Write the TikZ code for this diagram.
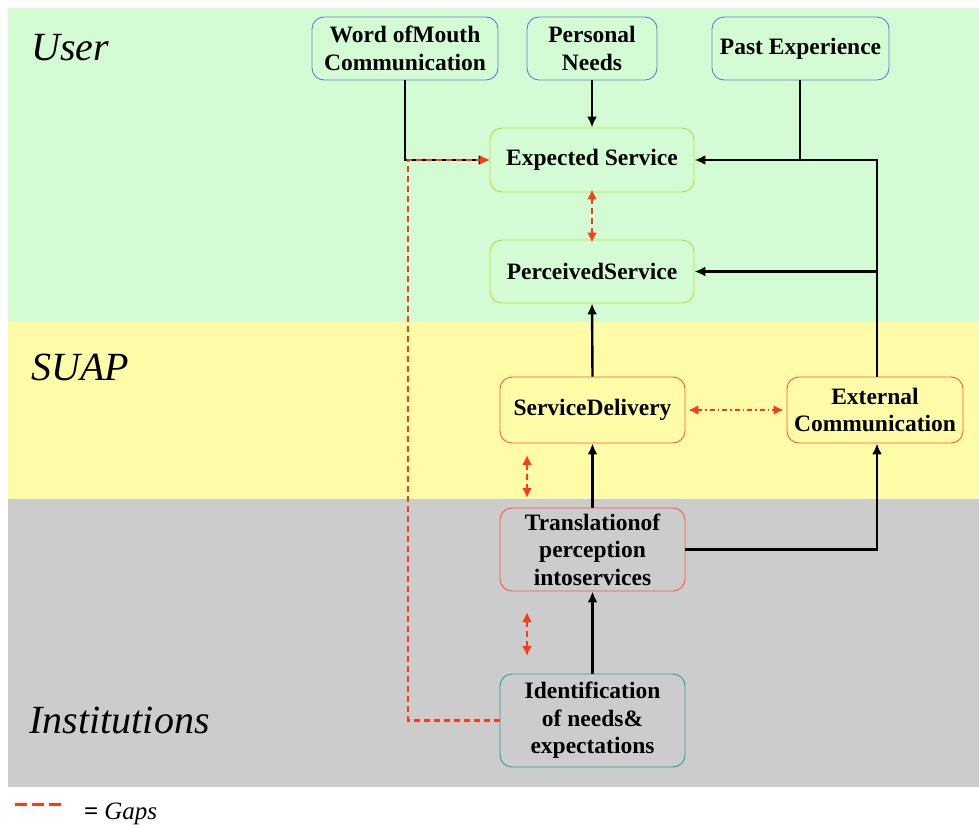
\documentclass[tikz,border=0pt]{standalone}
\usepackage{fontspec}
\setmainfont{Liberation Serif}
\usetikzlibrary{arrows.meta}
\definecolor{bggreen}{HTML}{D4FCD4}
\definecolor{bgyellow}{HTML}{FFFCA8}
\definecolor{bggray}{HTML}{CCCCCC}
\definecolor{bluebd}{HTML}{6A7BD0}
\definecolor{greenbd}{HTML}{B5E02E}
\definecolor{redbd}{HTML}{FF5A3A}
\definecolor{tealbd}{HTML}{2E9A9A}
\definecolor{gapred}{HTML}{FF3A1A}
\tikzset{
  box/.style={rounded corners=12, inner sep=0pt, align=center,
    font=\fontsize{23.5}{27.5}\selectfont\bfseries, line width=0.9pt},
  conn/.style={line width=2.4pt, draw=black, -{Latex[length=11pt,width=10pt]}},
  plain/.style={line width=2.4pt, draw=black},
  gap/.style={line width=2.2pt, draw=gapred, dash pattern=on 6pt off 4pt},
  gaptip/.style={{Latex[length=10pt,width=10pt]}-{Latex[length=10pt,width=10pt]}},
  region/.style={anchor=base west, font=\fontsize{40}{44}\selectfont\itshape}
}
\begin{document}
\begin{tikzpicture}[x=1pt,y=-1pt]
\useasboundingbox (0,0) rectangle (979,827);
\fill[white] (0,0) rectangle (979,827);
\fill[bggreen] (8,8) rectangle (979,322);
\fill[bgyellow] (8,322) rectangle (979,499);
\fill[bggray] (8,499) rectangle (979,787);

\node[region] (user) at (28,60) {User};
\node[region] (suap) at (28,380) {SUAP};
\node[region] (inst) at (26,733) {Institutions};

\node[box, draw=bluebd, minimum width=186, minimum height=63] (wom) at (405,48.5) {Word ofMouth\\Communication};
\node[box, draw=bluebd, minimum width=130, minimum height=63] (pn) at (592,48.5) {Personal\\Needs};
\node[box, draw=bluebd, minimum width=177, minimum height=63] (pe) at (800.5,48.5) {Past Experience};
\node[box, draw=greenbd, minimum width=204, minimum height=64] (es) at (592,160) {Expected Service};
\node[box, draw=greenbd, minimum width=204, minimum height=63] (ps) at (592,271.5) {PerceivedService};
\node[box, draw=redbd, minimum width=185, minimum height=66] (sd) at (592.5,410) {ServiceDelivery};
\node[box, draw=redbd, minimum width=176, minimum height=66] (ec) at (875,410) {External\\Communication};
\node[box, draw=redbd, minimum width=185, minimum height=83] (tr) at (592.5,549.5) {Translationof\\perception\\intoservices};
\node[box, draw=tealbd, minimum width=185, minimum height=93] (id) at (592.5,720.5) {Identification\\of needs\&\\expectations};

% black connectors
\coordinate (womc) at (405,160);
\draw[conn] (wom.south -| womc) -- (womc) -- (es.west);
\draw[conn] (pn.south) -- (es.north);
\coordinate (pec) at (800,160);
\draw[conn] (pe.south -| pec) -- (pec) -- (es.east);
\coordinate (ectop) at (877,160);
\coordinate (ecmid) at (877,271.5);
\draw[plain] (ec.north -| ectop) -- (ectop) -- (pec);
\draw[conn] (ecmid) -- (ps.east);
\draw[conn] (sd.north) -- (ps.south);
\draw[conn] (tr.north) -- (sd.south);
\draw[conn] (id.north) -- (tr.south);
\coordinate (trc) at (877,549.5);
\draw[conn] (tr.east) -- (trc) -- (ec.south -| trc);

% gaps
\coordinate (g5a) at (408,720.5);
\coordinate (g5b) at (408,160);
\draw[gap, -{Latex[length=10pt,width=10pt]}] (id.west) -- (g5a) -- (g5b) -- (es.west);
\draw[gap, gaptip] ([yshift=3]es.south) -- ([yshift=-3]ps.north);
\draw[line width=2.2pt, draw=gapred, dash pattern=on 5pt off 3pt on 1.5pt off 3pt, gaptip] ([xshift=3]sd.east) -- ([xshift=-3]ec.west);
\coordinate (g3a) at (527,455);
\coordinate (g3b) at (527,498);
\draw[gap, gaptip] (g3a) -- (g3b);
\coordinate (g4a) at (527,612);
\coordinate (g4b) at (527,656);
\draw[gap, gaptip] (g4a) -- (g4b);

% legend
\coordinate (la) at (15,804);
\coordinate (lb) at (62,804);
\draw[line width=3pt, draw=gapred, dash pattern=on 12pt off 5pt] (la) -- (lb);
\node[anchor=base west, inner sep=0pt, font=\fontsize{25}{27}\selectfont] (leg) at (84,819) {\textbf{=}\hspace{6pt}\textit{Gaps}};
\end{tikzpicture}
\end{document}
